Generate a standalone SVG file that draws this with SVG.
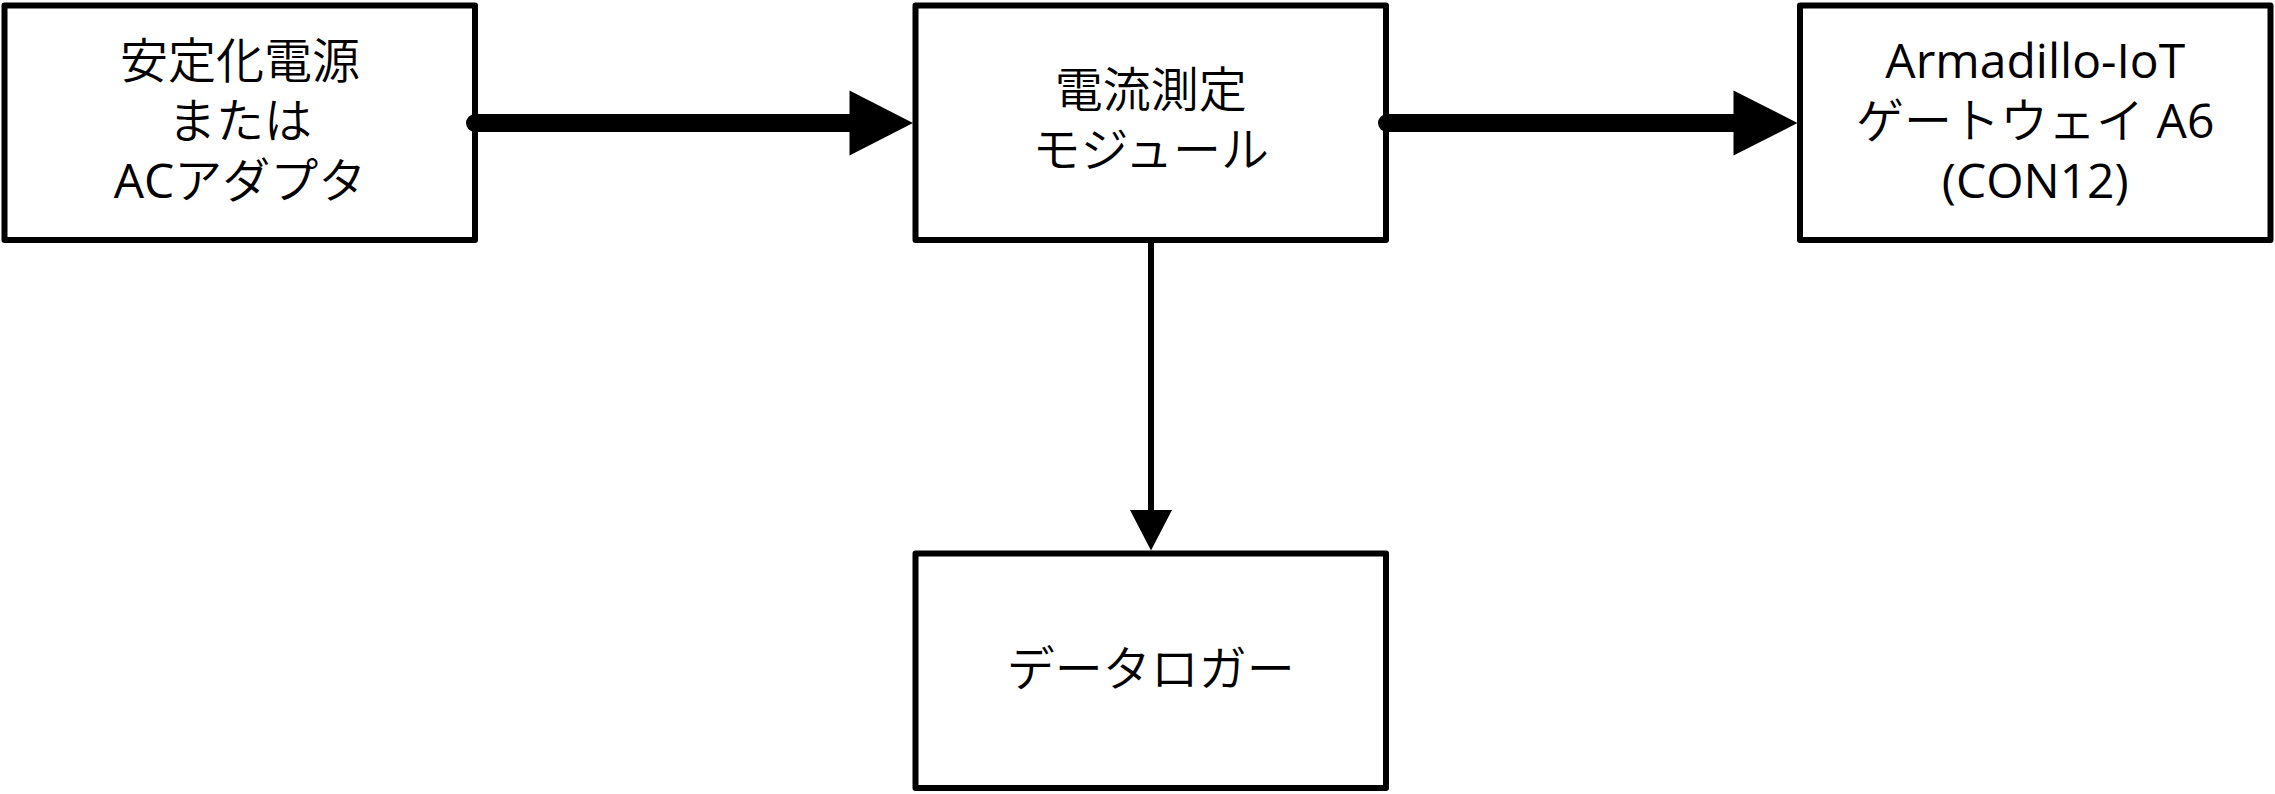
<svg xmlns="http://www.w3.org/2000/svg" width="2275" height="794" viewBox="0 0 2275 794">
<style>
.box{fill:#fff;stroke:#000;stroke-width:6;stroke-linejoin:round}
.lbl{font-family:"Open Sans","Noto Sans CJK JP",sans-serif;font-size:48px;font-weight:350;fill:#000;text-anchor:middle}
.lat{font-weight:400}
.thick{stroke:#000;stroke-width:18;stroke-linecap:round;fill:none}
.thin{stroke:#000;stroke-width:6;fill:none}
.head{fill:#000}
</style>
<rect width="2275" height="794" fill="#fff"/>
<g id="node-power">
<rect class="box" x="4.5" y="5.5" width="470.5" height="234.5"/>
<text class="lbl" x="240" y="77.5">安定化電源</text>
<text class="lbl" x="240" y="137.5">または</text>
<text class="lbl" x="240" y="198"><tspan class="lat">AC</tspan>アダプタ</text>
</g>
<g id="node-module">
<rect class="box" x="915.5" y="5.5" width="470.5" height="234.5"/>
<text class="lbl" x="1150.75" y="106.5">電流測定</text>
<text class="lbl" x="1150.75" y="167">モジュール</text>
</g>
<g id="node-armadillo">
<rect class="box" x="1800" y="5.5" width="470.5" height="234.5"/>
<text class="lbl lat" x="2035.25" y="77.5">Armadillo-IoT</text>
<text class="lbl" x="2035.25" y="137.5">ゲートウェイ<tspan class="lat"> A6</tspan></text>
<text class="lbl lat" x="2035.25" y="198">(CON12)</text>
</g>
<g id="node-logger">
<rect class="box" x="915.5" y="553.5" width="470.5" height="234.5"/>
<text class="lbl" x="1150.75" y="685.5">データロガー</text>
</g>
<g id="connectors">
<line class="thick" x1="475" y1="123" x2="852" y2="123"/>
<polygon class="head" points="849.5,90.5 913,123 849.5,155.5"/>
<line class="thick" x1="1387" y1="123" x2="1736" y2="123"/>
<polygon class="head" points="1733.5,90.5 1797.5,123 1733.5,155.5"/>
<line class="thin" x1="1151" y1="240" x2="1151" y2="512"/>
<polygon class="head" points="1130,510 1172,510 1151,550.5"/>
</g>
</svg>
